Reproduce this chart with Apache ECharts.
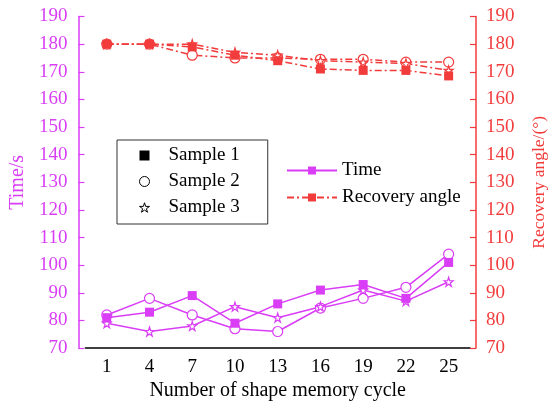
<!DOCTYPE html>
<html>
<head>
<meta charset="utf-8">
<script src="https://cdn.jsdelivr.net/npm/echarts@6/dist/echarts.min.js"></script>
<style>
  html, body { margin: 0; padding: 0; background: #fff; }
  #chart { width: 556px; height: 406px; }
</style>
</head>
<body>
<div id="chart"></div>
<script>
// number of shape memory cycles
var cycles = ['1', '4', '7', '10', '13', '16', '19', '22', '25'];

// time (s) per sample
var timeS1 = [81, 83, 89, 79, 86, 91, 93, 88, 101];
var timeS2 = [82, 88, 82, 77, 76, 84.5, 88, 92, 104];
var timeS3 = [79, 76, 78, 85, 81, 85, 91, 87, 94];

// recovery angle (deg) per sample
var angleS1 = [180, 180, 179, 176, 174, 171, 170.5, 170.5, 168.5];
var angleS2 = [180, 180, 176, 175, 175, 174.5, 174.5, 173.5, 173.5];
var angleS3 = [180, 180, 180, 177, 176, 174, 173.5, 173, 170.5];

var PURPLE = '#d93df5';
var RED = '#f23c3c';
var FONT = '"Liberation Serif", "Times New Roman", serif';
var STAR = 'path://M50,0 L61,35 L98,35 L68,57 L79,91 L50,70 L21,91 L32,57 L2,35 L39,35 Z';

function makeSeries(name, data, color, symbol, yIndex, dashed) {
    var filled = symbol === 'rect';
    return {
        name: name,
        type: 'line',
        yAxisIndex: yIndex,
        data: data,
        symbol: symbol,
        symbolSize: symbol === 'rect' ? 9 : (symbol === 'circle' ? 10 : 9),
        showAllSymbol: true,
        itemStyle: {
            color: filled ? color : '#fff',
            borderColor: color,
            borderWidth: filled ? 0 : 1.2
        },
        lineStyle: {
            color: color,
            width: 1.5,
            type: dashed ? [7, 3, 2, 3] : 'solid'
        },
        emphasis: { disabled: true },
        z: filled ? 3 : 2
    };
}

var chart = echarts.init(document.getElementById('chart'));

var option = {
    animation: false,
    textStyle: { fontFamily: FONT },
    grid: { left: 80, right: 76, top: 16.5, bottom: 57 },
    legend: [
        {
            left: 117,
            top: 140,
            orient: 'vertical',
            borderColor: '#333',
            borderWidth: 1,
            padding: [6, 28, 7, 22],
            itemWidth: 10,
            itemHeight: 10,
            itemGap: 7,
            selectedMode: false,
            textStyle: { fontFamily: FONT, fontSize: 19, color: '#000', padding: [0, 0, 0, 14] },
            data: [
                { name: 'Sample 1', icon: 'rect', itemStyle: { color: '#000', borderWidth: 0 } },
                { name: 'Sample 2', icon: 'circle', itemStyle: { color: '#fff', borderColor: '#000', borderWidth: 1 } },
                { name: 'Sample 3', icon: STAR, itemStyle: { color: '#fff', borderColor: '#000', borderWidth: 1 } }
            ]
        },
        {
            left: 281,
            top: 156,
            orient: 'vertical',
            itemWidth: 50,
            itemHeight: 10,
            itemGap: 8,
            selectedMode: false,
            textStyle: { fontFamily: FONT, fontSize: 19, color: '#000' },
            data: ['Time', 'Recovery angle']
        }
    ],
    xAxis: {
        type: 'category',
        data: cycles,
        boundaryGap: true,
        name: 'Number of shape memory cycle',
        nameLocation: 'middle',
        nameGap: 32,
        nameTextStyle: { fontFamily: FONT, fontSize: 20, color: '#000' },
        axisLine: { lineStyle: { color: '#000', width: 1.5 } },
        axisTick: { inside: true, length: 5, alignWithLabel: true, lineStyle: { color: '#000', width: 1 } },
        axisLabel: { fontFamily: FONT, fontSize: 19, color: '#000', margin: 9 },
        splitLine: { show: false }
    },
    yAxis: [
        {
            type: 'value',
            position: 'left',
            offset: 7,
            min: 70,
            max: 190,
            interval: 10,
            name: 'Time/s',
            nameLocation: 'middle',
            nameGap: 47,
            nameTextStyle: { fontFamily: FONT, fontSize: 20, color: PURPLE },
            axisLine: { show: true, lineStyle: { color: PURPLE, width: 1.5 } },
            axisTick: { show: true, inside: true, length: 6, lineStyle: { color: PURPLE, width: 1.2 } },
            axisLabel: { fontFamily: FONT, fontSize: 19, color: PURPLE, margin: 11 },
            splitLine: { show: false }
        },
        {
            type: 'value',
            position: 'right',
            offset: 6,
            min: 70,
            max: 190,
            interval: 10,
            name: 'Recovery angle/(°)',
            nameLocation: 'middle',
            nameGap: 54,
            nameRotate: 90,
            nameTextStyle: { fontFamily: FONT, fontSize: 17.5, color: RED },
            axisLine: { show: true, lineStyle: { color: RED, width: 1.5 } },
            axisTick: { show: true, inside: true, length: 6, lineStyle: { color: RED, width: 1.2 } },
            axisLabel: { fontFamily: FONT, fontSize: 19, color: RED, margin: 10 },
            splitLine: { show: false }
        }
    ],
    series: [
        makeSeries('Time', timeS1, PURPLE, 'rect', 0, false),
        makeSeries('Time', timeS2, PURPLE, 'circle', 0, false),
        makeSeries('Time', timeS3, PURPLE, STAR, 0, false),
        makeSeries('Recovery angle', angleS1, RED, 'rect', 1, true),
        makeSeries('Recovery angle', angleS2, RED, 'circle', 1, true),
        makeSeries('Recovery angle', angleS3, RED, STAR, 1, true),
        { name: 'Sample 1', type: 'line', data: [] },
        { name: 'Sample 2', type: 'line', data: [] },
        { name: 'Sample 3', type: 'line', data: [] }
    ]
};

chart.setOption(option);
</script>
</body>
</html>
